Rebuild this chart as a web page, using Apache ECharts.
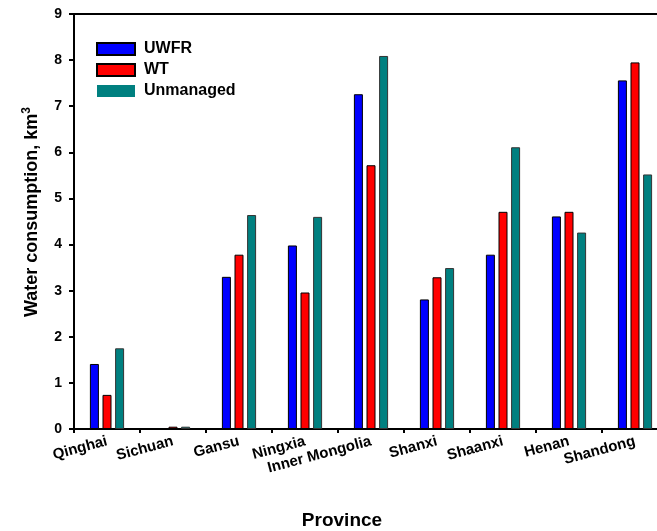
<!DOCTYPE html>
<html><head><meta charset="utf-8">
<script src="https://cdn.jsdelivr.net/npm/echarts@6/dist/echarts.min.js"></script>
<style>html,body{margin:0;padding:0;background:#fff;overflow:hidden}#c{width:668px;height:531px}</style>
</head><body><div id="c"></div>
<script>
const categories = ['Qinghai','Sichuan','Gansu','Ningxia','Inner Mongolia','Shanxi','Shaanxi','Henan','Shandong'];
const uwfr = [1.41, 0, 3.30, 3.98, 7.26, 2.81, 3.78, 4.61, 7.56];
const wt = [0.74, 0.05, 3.78, 2.96, 5.72, 3.29, 4.71, 4.71, 7.95];
const unmanaged = [1.75, 0.05, 4.64, 4.60, 8.09, 3.49, 6.11, 4.26, 5.52];
const yTicks = [0,1,2,3,4,5,6,7,8,9];

const F = 'Liberation Sans, Arial, sans-serif';
const chart = echarts.init(document.getElementById('c'));
function bar(name, data, color, border) {
  return {name, type:'bar', data, barWidth:9, barGap:'40%',
    itemStyle:{color, borderColor:border, borderWidth:1}};
}
chart.setOption({
  animation:false,
  grid:{left:74, top:14, bottom:102, right:0},
  legend:{orient:'vertical', left:96, top:41, padding:0, itemWidth:38, itemHeight:12, itemGap:5,
    textStyle:{fontFamily:F, fontWeight:'bold', fontSize:16, lineHeight:16, color:'#000', padding:[0,0,0,4]},
    icon:'rect',
    data:[{name:'UWFR'},{name:'WT'},{name:'Unmanaged', itemStyle:{borderWidth:0}}]},
  xAxis:[{type:'category', data:categories, position:'bottom',
    axisLine:{lineStyle:{color:'#000', width:2}},
    axisTick:{show:true, length:4, lineStyle:{color:'#000', width:2}},
    axisLabel:{rotate:15, fontFamily:F, fontWeight:'bold', fontSize:15, color:'#000', margin:12, interval:0}},
   {type:'category', data:categories, position:'top',
    axisLine:{lineStyle:{color:'#000', width:2}}, axisTick:{show:false}, axisLabel:{show:false}}],
  yAxis:{type:'value', min:0, max:9, interval:1,
    axisLine:{show:true, lineStyle:{color:'#000', width:2}},
    axisTick:{show:true, length:5, lineStyle:{color:'#000', width:2}},
    splitLine:{show:false},
    axisLabel:{fontFamily:F, fontWeight:'bold', fontSize:14, color:'#000', margin:12,
      formatter:v=>yTicks.includes(v)?String(v):''}},
  graphic:[
    {type:'text', x:342, y:521, style:{text:'Province', align:'center', verticalAlign:'middle',
      font:'bold 19px '+F, fill:'#000'}},
    {type:'text', x:32, y:212, rotation:Math.PI/2, style:{text:'Water consumption, km{s|3}',
      align:'center', verticalAlign:'middle', font:'bold 18px '+F, fill:'#000', lineHeight:22,
      rich:{s:{font:'bold 12px '+F, fill:'#000', verticalAlign:'top', lineHeight:22, padding:[0,0,8,0]}}}}
  ],
  series:[bar('UWFR', uwfr, '#0000ff', '#000'), bar('WT', wt, '#ff0000', '#000'), bar('Unmanaged', unmanaged, '#008080', '#333')]
});
</script></body></html>
